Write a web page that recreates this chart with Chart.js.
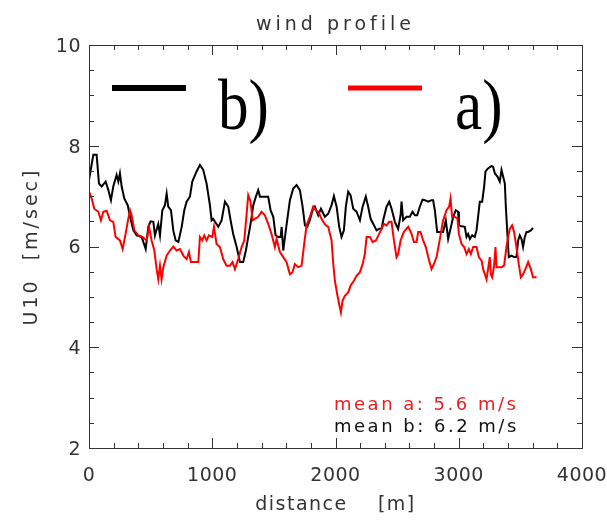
<!DOCTYPE html>
<html>
<head>
<meta charset="utf-8">
<script src="https://cdn.jsdelivr.net/npm/chart.js@4"></script>
<style>
  body { margin: 0; background: #fff; }
  canvas { display: block; }
</style>
</head>
<body>
<canvas id="myChart" width="607" height="525"></canvas>
<script>
// series b) (black)
const distB = [0, 35, 62, 81, 103, 135, 157, 178, 197, 224, 238, 251, 265, 287, 314, 333, 360, 387, 427, 460,
  481, 500, 522, 535, 562, 576, 595, 616, 630, 643, 665, 684, 703, 725, 752, 773, 792, 819, 838, 873,
  900, 927, 954, 981, 995, 1008, 1022, 1049, 1076, 1103, 1130, 1149, 1170, 1198, 1225, 1251, 1273, 1292, 1311, 1333,
  1354, 1373, 1387, 1427, 1454, 1473, 1495, 1514, 1535, 1555, 1563, 1576, 1590, 1608, 1630, 1657, 1684, 1711, 1733, 1752,
  1771, 1792, 1814, 1833, 1860, 1882, 1914, 1941, 1968, 1987, 2009, 2030, 2049, 2068, 2084, 2103, 2122, 2144, 2171, 2198,
  2220, 2246, 2265, 2285, 2306, 2333, 2354, 2374, 2387, 2414, 2436, 2455, 2482, 2508, 2528, 2536, 2549, 2577, 2603, 2625,
  2644, 2663, 2684, 2706, 2725, 2752, 2779, 2792, 2806, 2825, 2847, 2873, 2895, 2914, 2933, 2955, 2976, 2995, 3001, 3023,
  3049, 3063, 3076, 3090, 3109, 3130, 3144, 3157, 3171, 3190, 3206, 3217, 3238, 3266, 3279, 3293, 3314, 3333, 3347, 3360,
  3374, 3382, 3396, 3406, 3428, 3449, 3468, 3482, 3495, 3509, 3522, 3536, 3550, 3563, 3585, 3603];
const windB = [7.32, 7.82, 7.82, 7.25, 7.19, 7.29, 7.12, 6.92, 7.19, 7.42, 7.29, 7.45, 7.19, 6.95, 6.82, 6.59, 6.32, 6.22, 6.19, 5.95,
  6.39, 6.5, 6.49, 6.22, 6.45, 6.22, 6.72, 6.82, 7.05, 6.79, 6.72, 6.32, 6.12, 6.09, 6.39, 6.72, 6.89, 6.99, 7.29, 7.49,
  7.62, 7.52, 7.25, 6.82, 6.52, 6.55, 6.49, 6.39, 6.52, 6.89, 6.79, 6.52, 6.25, 5.99, 5.69, 5.69, 5.92, 6.19, 6.45, 6.82,
  6.99, 7.12, 6.99, 6.99, 6.99, 6.72, 6.59, 6.22, 6.19, 6.19, 6.39, 5.92, 6.19, 6.52, 6.92, 7.15, 7.22, 7.12, 6.79, 6.42,
  6.39, 6.52, 6.72, 6.79, 6.62, 6.75, 6.59, 6.65, 6.82, 7.0, 6.79, 6.39, 6.19, 6.32, 6.79, 7.09, 7.02, 6.75, 6.69, 6.52,
  6.79, 6.99, 6.79, 6.55, 6.45, 6.32, 6.35, 6.35, 6.52, 6.79, 6.89, 6.75, 6.49, 6.35, 6.62, 6.89, 6.52, 6.59, 6.59, 6.69,
  6.62, 6.62, 6.79, 6.93, 6.92, 6.89, 6.92, 6.92, 6.72, 6.29, 6.29, 6.29, 6.52, 6.15, 6.35, 6.59, 6.72, 6.69, 6.42, 6.4,
  6.39, 6.19, 6.25, 6.15, 6.22, 6.19, 6.32, 6.59, 6.89, 6.89, 7.19, 7.49, 7.55, 7.6, 7.58, 7.45, 7.39, 7.29, 7.52, 7.39,
  7.25, 6.79, 6.19, 5.79, 5.82, 5.79, 5.79, 6.12, 6.22, 6.15, 5.99, 6.19, 6.29, 6.29, 6.32, 6.37];

// series a) (red)
const distA = [0, 22, 43, 76, 97, 116, 143, 170, 197, 216, 251, 273, 297, 314, 333, 346, 368, 400, 433, 468,
  487, 508, 530, 549, 562, 576, 589, 603, 630, 657, 684, 711, 738, 765, 792, 811, 827, 887, 900, 919,
  935, 954, 973, 1000, 1014, 1035, 1062, 1089, 1116, 1143, 1165, 1184, 1211, 1238, 1260, 1279, 1292, 1311, 1327, 1346,
  1373, 1400, 1427, 1454, 1481, 1508, 1522, 1549, 1576, 1603, 1630, 1651, 1670, 1697, 1725, 1746, 1765, 1792, 1819, 1841,
  1860, 1879, 1900, 1922, 1941, 1968, 1982, 1995, 2014, 2030, 2044, 2057, 2076, 2103, 2122, 2149, 2171, 2198, 2220, 2238,
  2252, 2279, 2301, 2328, 2354, 2374, 2392, 2414, 2436, 2455, 2474, 2495, 2508, 2528, 2555, 2590, 2617, 2636, 2658, 2671,
  2690, 2711, 2733, 2752, 2779, 2798, 2820, 2847, 2873, 2901, 2922, 2933, 2946, 2968, 2990, 3001, 3023, 3044, 3063, 3082,
  3098, 3117, 3144, 3163, 3185, 3198, 3212, 3225, 3238, 3252, 3260, 3271, 3287, 3298, 3306, 3325, 3347, 3368, 3387, 3401,
  3414, 3433, 3449, 3468, 3487, 3504, 3522, 3541, 3563, 3585, 3603, 3631];
const windA = [7.09, 6.95, 6.75, 6.69, 6.52, 6.69, 6.71, 6.52, 6.49, 6.19, 6.12, 5.95, 6.25, 6.49, 6.72, 6.62, 6.32, 6.22, 6.19, 6.12,
  6.39, 6.12, 5.92, 5.55, 5.35, 5.62, 5.35, 5.59, 5.82, 5.92, 6.0, 5.92, 5.95, 5.82, 5.75, 5.89, 5.69, 5.69, 6.19, 6.12,
  6.22, 6.12, 6.22, 6.19, 6.39, 6.05, 5.99, 5.75, 5.62, 5.62, 5.69, 5.55, 5.75, 5.99, 6.12, 6.65, 7.02, 6.89, 6.52, 6.55,
  6.59, 6.69, 6.62, 6.45, 6.25, 5.99, 6.15, 5.89, 5.79, 5.69, 5.45, 5.49, 5.65, 5.59, 5.62, 6.05, 6.42, 6.59, 6.79, 6.72,
  6.69, 6.59, 6.49, 6.42, 6.39, 6.12, 5.65, 5.32, 5.05, 4.85, 4.69, 4.92, 5.02, 5.09, 5.22, 5.32, 5.42, 5.49, 5.65, 5.85,
  6.19, 6.19, 6.09, 6.12, 6.25, 6.35, 6.45, 6.42, 6.49, 6.49, 6.12, 5.79, 5.85, 6.12, 6.29, 6.39, 6.25, 6.09, 6.09, 6.29,
  6.29, 6.12, 5.99, 5.79, 5.55, 5.65, 5.79, 6.15, 6.52, 6.72, 6.79, 6.95, 6.59, 6.59, 6.55, 6.25, 6.05, 5.99, 5.85, 5.95,
  5.85, 5.99, 5.99, 5.79, 5.72, 5.55, 5.45, 5.35, 5.55, 5.79, 5.45, 5.39, 5.62, 5.99, 5.59, 5.59, 5.59, 5.62, 5.99, 6.19,
  6.35, 6.42, 6.29, 5.99, 5.65, 5.39, 5.45, 5.55, 5.69, 5.55, 5.39, 5.39];

const seriesLabels = ["b)", "a)"];
const meanLabels = ["mean a: 5.6 m/s", "mean b: 6.2 m/s"];
const xTicks = [0, 1000, 2000, 3000, 4000];
const yTicks = [2, 4, 6, 8, 10];
const chartTitle = "wind profile";
const xTitle = "distance    [m]";
const yTitle = "U10  [m/sec]";

const thinFont = '"DejaVu Sans ExtraLight", "DejaVu Sans"';

function toPoints(xs, ys) {
  return xs.map((v, i) => ({ x: v, y: ys[i] }));
}

// ticks, frame and texts, drawn like the IDL plot
const idlAxes = {
  id: "idlAxes",
  afterDatasetsDraw(chart) {
    const ctx = chart.ctx;
    const a = chart.chartArea;
    const x = chart.scales.x;
    const y = chart.scales.y;
    ctx.save();
    ctx.strokeStyle = "#333";
    ctx.lineWidth = 1;
    ctx.strokeRect(a.left + 0.5, a.top + 0.5, a.right - a.left, a.bottom - a.top);

    ctx.beginPath();
    for (let v = x.min; v <= x.max; v += 200) {
      const px = Math.round(x.getPixelForValue(v)) + 0.5;
      const len = xTicks.includes(v) ? 10 : 5;
      ctx.moveTo(px, a.bottom); ctx.lineTo(px, a.bottom - len);
      ctx.moveTo(px, a.top); ctx.lineTo(px, a.top + len);
    }
    for (let v = y.min; v <= y.max; v += 0.5) {
      const py = Math.round(y.getPixelForValue(v)) + 0.5;
      const len = yTicks.includes(v) ? 10 : 5;
      ctx.moveTo(a.left, py); ctx.lineTo(a.left + len, py);
      ctx.moveTo(a.right, py); ctx.lineTo(a.right - len, py);
    }
    ctx.stroke();

    ctx.fillStyle = "#333";
    ctx.font = "19px " + thinFont;
    ctx.letterSpacing = "0.5px";
    ctx.textAlign = "center";
    ctx.textBaseline = "alphabetic";
    xTicks.forEach(v => ctx.fillText(String(v), x.getPixelForValue(v), 481));
    ctx.textAlign = "right";
    ctx.textBaseline = "middle";
    yTicks.forEach(v => ctx.fillText(String(v), a.left - 8, y.getPixelForValue(v) + 2));

    // titles
    ctx.textAlign = "center";
    ctx.textBaseline = "alphabetic";
    ctx.letterSpacing = "4px";
    ctx.fillText(chartTitle, (a.left + a.right) / 2, 30);
    ctx.letterSpacing = "1.5px";
    ctx.fillText(xTitle, (a.left + a.right) / 2, 510);
    ctx.save();
    ctx.translate(37, (a.top + a.bottom) / 2);
    ctx.rotate(-Math.PI / 2);
    ctx.letterSpacing = "3px";
    ctx.fillText(yTitle, 0, 0);
    ctx.restore();

    // mean values
    ctx.textAlign = "left";
    ctx.font = "18px " + thinFont;
    ctx.letterSpacing = "2.5px";
    ctx.fillStyle = "#e82020";
    ctx.fillText(meanLabels[0], 334, 410);
    ctx.fillStyle = "#111";
    ctx.fillText(meanLabels[1], 334, 432);

    // big legend
    ctx.letterSpacing = "0px";
    const legend = [
      { ds: chart.data.datasets[1], x0: 112, x1: 186, tx: 218, w: 6 },
      { ds: chart.data.datasets[0], x0: 348, x1: 422, tx: 455, w: 5 }
    ];
    legend.forEach(l => {
      ctx.strokeStyle = l.ds.borderColor;
      ctx.lineWidth = l.w;
      ctx.beginPath();
      ctx.moveTo(l.x0, 88); ctx.lineTo(l.x1, 88);
      ctx.stroke();
      ctx.save();
      ctx.translate(l.tx, 129);
      ctx.scale(0.85, 1);
      ctx.fillStyle = "#000";
      ctx.font = '72px "Liberation Serif"';
      ctx.fillText(l.ds.label, 0, 0);
      ctx.restore();
    });
    ctx.restore();
  }
};

const config = {
  type: "line",
  data: {
    datasets: [
      { label: seriesLabels[1], data: toPoints(distA, windA), borderColor: "#ff0000", borderWidth: 2, pointRadius: 0, tension: 0 },
      { label: seriesLabels[0], data: toPoints(distB, windB), borderColor: "#000000", borderWidth: 2, pointRadius: 0, tension: 0 }
    ]
  },
  options: {
    responsive: false,
    animation: false,
    events: [],
    layout: { padding: { left: 89, top: 45, right: 25, bottom: 77 } },
    plugins: { legend: { display: false }, title: { display: false }, tooltip: { enabled: false } },
    scales: {
      x: { type: "linear", min: 0, max: 4000, display: false },
      y: { type: "linear", min: 2, max: 10, display: false }
    }
  },
  plugins: [idlAxes]
};

const myChart = document.getElementById("myChart");
new Chart(myChart, config);
</script>
</body>
</html>
